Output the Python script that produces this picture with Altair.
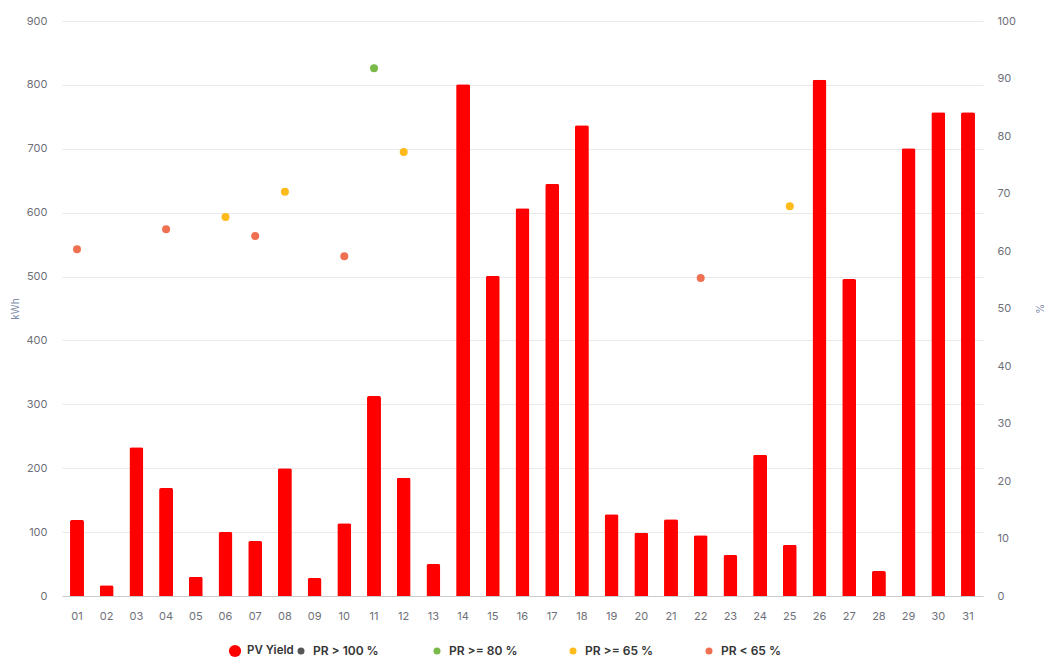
import altair as alt
import pandas as pd

days = [f"{d:02d}" for d in range(1, 32)]
yield_kwh = [119, 17, 233, 169, 30, 100, 86, 200, 28, 114, 313, 185, 50, 801, 501,
             607, 645, 737, 128, 99, 120, 95, 64, 221, 80, 808, 496, 39, 701, 757, 757]
pr_days = ["01", "04", "06", "07", "08", "10", "11", "12", "22", "25"]
pr_values = [60.3, 63.8, 65.9, 62.6, 70.3, 59.1, 91.8, 77.2, 55.3, 67.8]

pr_labels = ["PR > 100 %", "PR >= 80 %", "PR >= 65 %", "PR < 65 %"]
pr_colors = ["#555555", "#78b94a", "#ffba1c", "#ef7152"]


def pr_class(v):
    if v > 100:
        return pr_labels[0]
    if v >= 80:
        return pr_labels[1]
    if v >= 65:
        return pr_labels[2]
    return pr_labels[3]


bars_df = pd.DataFrame({"day": days, "kwh": yield_kwh, "series": "PV Yield"})
pr_df = pd.DataFrame({"day": pr_days, "pr": pr_values,
                      "cls": [pr_class(v) for v in pr_values]})

font = "Inter"
label_color = "#6e7079"

x = alt.X("day:N", title=None, sort=days,
          scale=alt.Scale(paddingInner=0.53, paddingOuter=0.27),
          axis=alt.Axis(labelAngle=0, ticks=False, domainColor="#cccccc",
                        labelPadding=14, labelFontSize=11, labelColor=label_color,
                        labelFont=font))

bars = alt.Chart(bars_df).mark_bar(cornerRadiusTopLeft=2, cornerRadiusTopRight=2).encode(
    x=x,
    y=alt.Y("kwh:Q", title="kWh", scale=alt.Scale(domain=[0, 900]),
            axis=alt.Axis(values=list(range(0, 901, 100)), domain=False, ticks=False,
                          gridColor="#e9e9e9", labelPadding=15, labelFontSize=11,
                          labelColor=label_color, labelFont=font,
                          titleFont=font, titleFontSize=10, titleFontWeight="normal",
                          titleColor="#7d8aa8", titlePadding=6)),
    color=alt.Color("series:N", scale=alt.Scale(domain=["PV Yield"], range=["#ff0000"]),
                    legend=alt.Legend(title=None, orient="none", legendX=166, legendY=623,
                                      symbolType="circle", symbolSize=150,
                                      labelFont=font, labelFontSize=11.5,
                                      labelFontWeight=600, labelColor="#333333",
                                      labelOffset=5)),
)

points = alt.Chart(pr_df).mark_circle(size=64, opacity=1).encode(
    x=x,
    y=alt.Y("pr:Q", title="%", scale=alt.Scale(domain=[0, 100]),
            axis=alt.Axis(orient="right", values=list(range(0, 101, 10)), grid=False,
                          domain=False, ticks=False, labelPadding=14, labelFontSize=11,
                          labelColor=label_color, labelFont=font,
                          titleFont=font, titleFontSize=10, titleFontWeight="normal",
                          titleColor="#7d8aa8", titlePadding=18)),
    color=alt.Color("cls:N", scale=alt.Scale(domain=pr_labels, range=pr_colors),
                    legend=alt.Legend(title=None, orient="none", legendX=233, legendY=624,
                                      direction="horizontal", columns=4, gridAlign="all",
                                      symbolType="circle", symbolSize=49,
                                      columnPadding=49, labelOffset=6,
                                      labelFont=font, labelFontSize=12,
                                      labelFontWeight=600, labelColor="#333333")),
)

chart = (
    alt.layer(bars, points)
    .resolve_scale(y="independent", color="independent")
    .properties(width=921, height=575, autosize="none",
                padding={"left": 54, "top": 13, "right": 64, "bottom": 70})
    .configure_view(stroke=None)
)

chart.save("out.html", embed_options={"renderer": "svg", "actions": False})
